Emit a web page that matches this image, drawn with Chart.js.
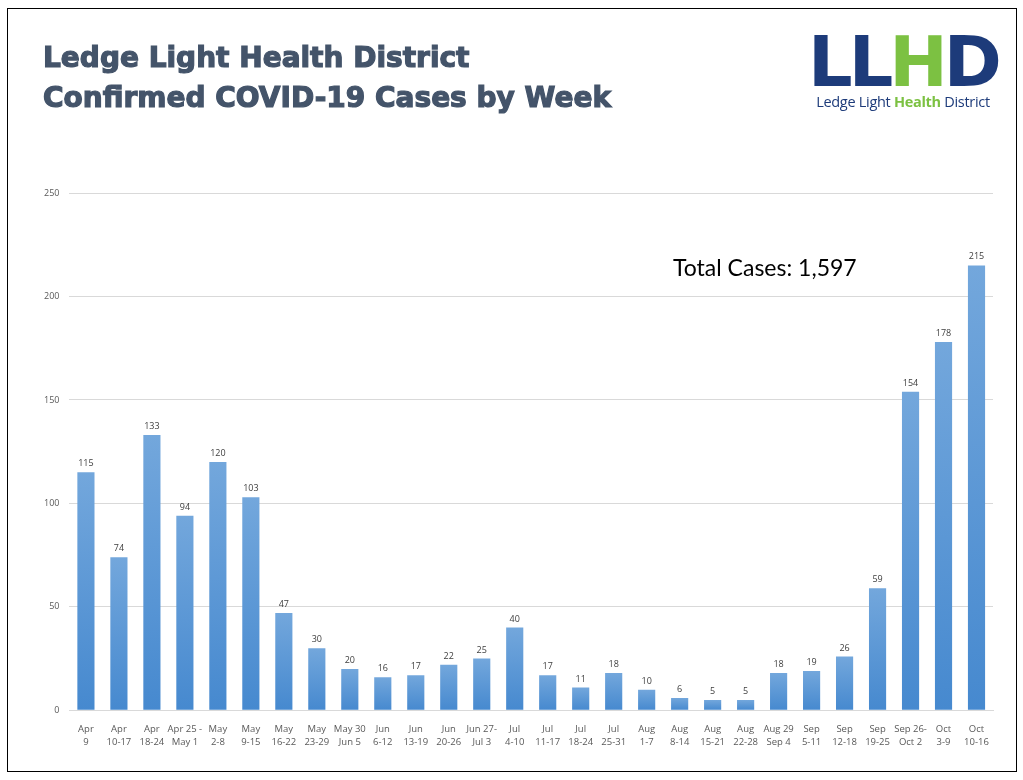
<!DOCTYPE html>
<html>
<head>
<meta charset="utf-8">
<script src="https://cdn.jsdelivr.net/npm/chart.js@4"></script>
<style>
  html, body { margin: 0; padding: 0; background: #fff; }
  body { width: 1023px; height: 780px; position: relative; overflow: hidden; }
  #frame { position: absolute; left: 7px; top: 8px; width: 1008px; height: 762px; border: 1px solid #000; }
  #title { position: absolute; left: 43px; top: 38px; font-family: "DejaVu Sans", sans-serif; font-weight: bold;
           font-size: 28px; line-height: 40px; color: #44546a; -webkit-text-stroke: 1.2px #44546a; }
  #total { position: absolute; left: 673px; top: 253px; font-family: Lato, sans-serif; font-size: 23px; color: #000; }
  #logo { position: absolute; left: 807px; top: 30px; width: 192px; text-align: center; }
  #logo .big { font-family: "DejaVu Sans", sans-serif; font-weight: bold; font-size: 70px; line-height: 64px;
               letter-spacing: -4px; color: #1d3b7a; }
  #logo .big span { color: #7cc142; }
  #logo .small { font-family: "Open Sans", sans-serif; font-size: 14.5px; color: #1d3b7a; margin-top: -2px; letter-spacing: -0.3px; }
  #logo .small b { color: #7cc142; }
  canvas { position: absolute; left: 0; top: 0; }
</style>
</head>
<body>
<div id="frame"></div>
<canvas id="cases" width="1023" height="780"></canvas>
<div id="title">Ledge Light Health District<br>Confirmed COVID-19 Cases by Week</div>
<div id="logo"><div class="big">LL<span>H</span>D</div><div class="small">Ledge Light <b>Health</b> District</div></div>
<div id="total">Total Cases: 1,597</div>
<script>
// weekly confirmed cases
const weeks = [
    ['Apr', '9'], ['Apr', '10-17'], ['Apr', '18-24'], ['Apr 25 -', 'May 1'], ['May', '2-8'],
    ['May', '9-15'], ['May', '16-22'], ['May', '23-29'], ['May 30', 'Jun 5'], ['Jun', '6-12'],
    ['Jun', '13-19'], ['Jun', '20-26'], ['Jun 27-', 'Jul 3'], ['Jul', '4-10'], ['Jul', '11-17'],
    ['Jul', '18-24'], ['Jul', '25-31'], ['Aug', '1-7'], ['Aug', '8-14'], ['Aug', '15-21'],
    ['Aug', '22-28'], ['Aug 29', 'Sep 4'], ['Sep', '5-11'], ['Sep', '12-18'], ['Sep', '19-25'],
    ['Sep 26-', 'Oct 2'], ['Oct', '3-9'], ['Oct', '10-16']
];
const cases = [115, 74, 133, 94, 120, 103, 47, 30, 20, 16, 17, 22, 25, 40,
               17, 11, 18, 10, 6, 5, 5, 18, 19, 26, 59, 154, 178, 215];
const yTicks = [0, 50, 100, 150, 200, 250];

// gradient per bar, light at the top
function barFill(context) {
    const chart = context.chart;
    const y = chart.scales.y;
    if (!y || !chart.chartArea || context.dataIndex === undefined) return '#5b9bd5';
    const top = y.getPixelForValue(context.raw);
    const bottom = y.getPixelForValue(0);
    if (!isFinite(top) || !isFinite(bottom) || top === bottom) return '#5b9bd5';
    const g = chart.ctx.createLinearGradient(0, top, 0, bottom);
    g.addColorStop(0, '#73a7dc');
    g.addColorStop(1, '#4689cf');
    return g;
}

const valueLabels = {
    id: 'valueLabels',
    afterDatasetsDraw(chart) {
        const ctx = chart.ctx;
        ctx.save();
        ctx.font = '9px "Open Sans", sans-serif';
        ctx.fillStyle = '#404040';
        ctx.textAlign = 'center';
        ctx.textBaseline = 'bottom';
        chart.getDatasetMeta(0).data.forEach((bar, i) => {
            ctx.fillText(cases[i], bar.x, bar.y - 4);
        });
        ctx.restore();
    }
};

new Chart(document.getElementById('cases'), {
    type: 'bar',
    data: {
        labels: weeks,
        datasets: [{
            data: cases,
            backgroundColor: barFill,
            barPercentage: 0.52,
            categoryPercentage: 1,
            borderWidth: 0
        }]
    },
    options: {
        responsive: false,
        animation: false,
        layout: { padding: { top: 193, left: 34, right: 30, bottom: 26 } },
        plugins: {
            legend: { display: false },
            tooltip: { enabled: false }
        },
        scales: {
            x: {
                grid: { display: false },
                border: { display: true, color: '#d9d9d9' },
                ticks: {
                    color: '#595959',
                    font: { family: '"Open Sans", sans-serif', size: 9.5, lineHeight: 1.35 },
                    maxRotation: 0,
                    autoSkip: false,
                    padding: 5
                }
            },
            y: {
                min: 0,
                max: 250,
                afterBuildTicks(axis) { axis.ticks = yTicks.map(v => ({ value: v })); },
                grid: { color: '#d9d9d9', drawTicks: false },
                border: { display: false },
                ticks: {
                    color: '#595959',
                    font: { family: '"Open Sans", sans-serif', size: 9 },
                    padding: 10
                }
            }
        }
    },
    plugins: [valueLabels]
});
</script>
</body>
</html>
